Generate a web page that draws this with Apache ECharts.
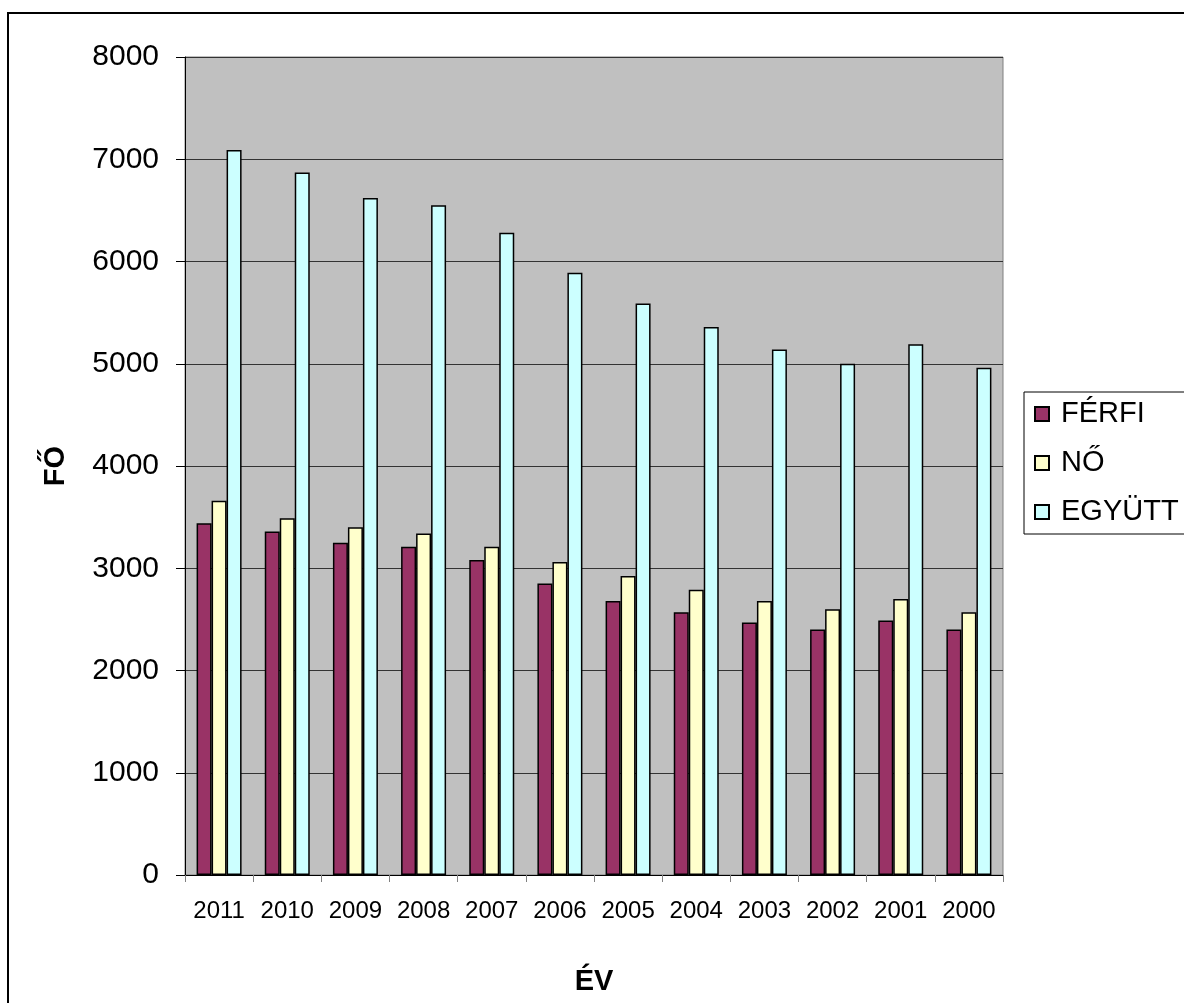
<!DOCTYPE html>
<html>
<head>
<meta charset="utf-8">
<script src="https://cdn.jsdelivr.net/npm/echarts@6/dist/echarts.min.js"></script>
<style>
html,body{margin:0;padding:0;background:#fff;}
#chart{width:1184px;height:1003px;}
</style>
</head>
<body>
<div id="chart"></div>
<script>
var years = ['2011','2010','2009','2008','2007','2006','2005','2004','2003','2002','2001','2000'];
var ferfi = [3440, 3360, 3250, 3210, 3080, 2850, 2680, 2570, 2470, 2400, 2490, 2400];
var no = [3660, 3490, 3400, 3340, 3210, 3060, 2925, 2790, 2680, 2600, 2700, 2570];
var egyutt = [7090, 6870, 6620, 6550, 6280, 5890, 5590, 5360, 5140, 5000, 5190, 4960];
var seriesNames = ['FÉRFI', 'NŐ', 'EGYÜTT'];
var seriesColors = ['#993366', '#FFFFCC', '#CCFFFF'];

var font = '"Liberation Sans", Arial, sans-serif';
var chart = echarts.init(document.getElementById('chart'));
var dataSets = [ferfi, no, egyutt];
var series = dataSets.map(function (d, i) {
  return {
    name: seriesNames[i],
    type: 'bar',
    data: d,
    barGap: '0%',
    barCategoryGap: '34%',
    itemStyle: { color: seriesColors[i], borderColor: '#000', borderWidth: 1.5 },
    emphasis: { disabled: true }
  };
});

chart.setOption({
  animation: false,
  backgroundColor: '#fff',
  graphic: [{
    type: 'rect',
    shape: { x: 8, y: 13, width: 1220, height: 1040 },
    style: { fill: 'none', stroke: '#000', lineWidth: 2 },
    silent: true
  }],
  grid: {
    left: 185, top: 57, right: 181, bottom: 128,
    show: true, backgroundColor: '#C0C0C0', borderColor: '#808080', borderWidth: 1
  },
  legend: {
    orient: 'vertical',
    left: 1024, top: 392,
    padding: [7, 40, 7, 10],
    itemWidth: 14, itemHeight: 14,
    itemGap: 19,
    borderColor: '#000', borderWidth: 1,
    icon: 'rect',
    textStyle: { fontFamily: font, fontSize: 29, color: '#000', lineHeight: 30, padding: [0, 0, 0, 7] },
    data: seriesNames
  },
  xAxis: {
    type: 'category',
    data: years,
    name: 'ÉV',
    nameLocation: 'middle',
    nameGap: 92,
    nameTextStyle: { fontFamily: font, fontSize: 29, fontWeight: 'bold', color: '#000' },
    axisLine: { lineStyle: { color: '#000', width: 1 } },
    axisTick: { show: true, interval: 0, alignWithLabel: false, length: 7, lineStyle: { color: '#808080' } },
    axisLabel: { interval: 0, hideOverlap: false, fontFamily: font, fontSize: 24, color: '#000', margin: 24 },
    splitLine: { show: false }
  },
  yAxis: {
    type: 'value',
    min: 0, max: 8000, interval: 1000,
    name: 'FŐ',
    nameLocation: 'middle',
    nameRotate: 90,
    nameGap: 115,
    nameTextStyle: { fontFamily: font, fontSize: 29, fontWeight: 'bold', color: '#000' },
    axisLine: { show: true, lineStyle: { color: '#000', width: 1 } },
    axisTick: { show: true, length: 9, lineStyle: { color: '#000' } },
    axisLabel: { fontFamily: font, fontSize: 30, color: '#000', margin: 26, formatter: function (v) { return String(v); } },
    splitLine: { show: true, lineStyle: { color: '#333', width: 1 } }
  },
  series: series
});
</script>
</body>
</html>
